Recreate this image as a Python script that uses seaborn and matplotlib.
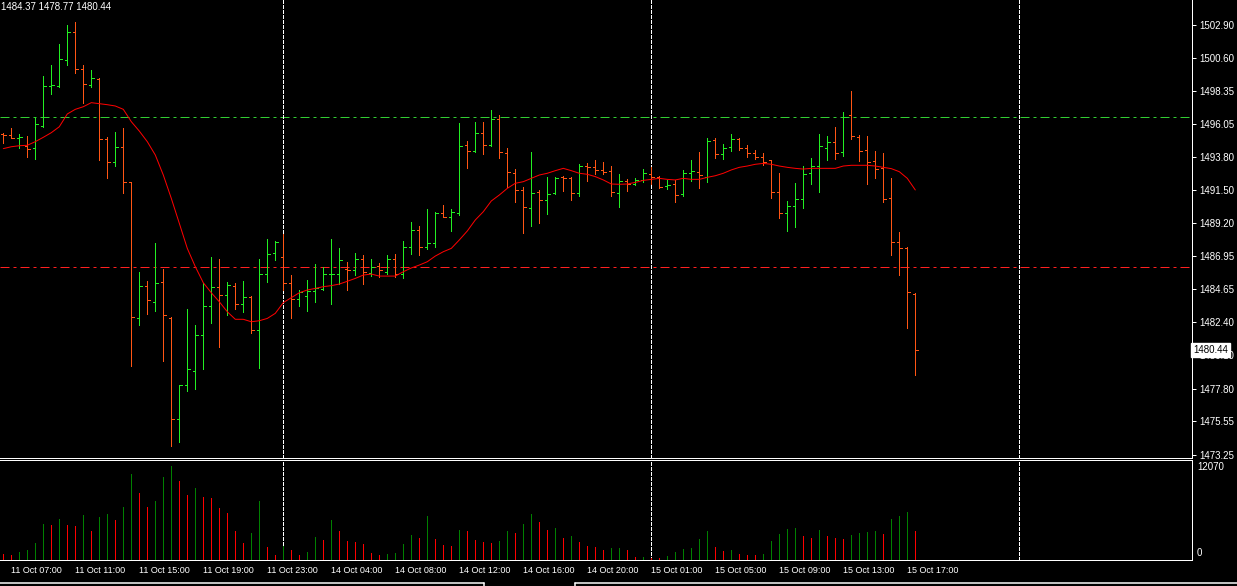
import numpy as np
import matplotlib
matplotlib.use("Agg")
import matplotlib.pyplot as plt
import matplotlib.transforms as mtransforms
from matplotlib.lines import Line2D
import seaborn as sns

# XAUUSD M30 bars
opens = [1495.36, 1495.29, 1495.10, 1494.55, 1494.37, 1495.91, 1498.69, 1498.65, 1500.44, 1502.37,
         1499.82, 1498.71, 1499.17, 1494.99, 1493.45, 1494.46, 1492.05, 1482.64, 1484.87, 1483.75,
         1485.13, 1482.69, 1475.68, 1478.05, 1479.01, 1481.50, 1483.50, 1484.81, 1484.23, 1484.87,
         1483.61, 1484.14, 1481.82, 1485.68, 1487.13, 1486.85, 1485.06, 1483.96, 1484.16, 1484.53,
         1484.69, 1485.68, 1485.68, 1486.07, 1485.98, 1486.74, 1485.79, 1486.25, 1485.82, 1486.71,
         1485.70, 1487.54, 1488.71, 1487.54, 1487.82, 1489.89, 1489.66, 1489.89, 1494.58, 1494.16,
         1495.40, 1494.58, 1496.39, 1494.02, 1492.65, 1491.50, 1490.23, 1491.33, 1490.78, 1491.27,
         1492.39, 1492.30, 1491.27, 1493.17, 1493.06, 1492.85, 1492.78, 1491.27, 1492.09, 1491.91,
         1492.18, 1492.58, 1492.42, 1491.77, 1491.89, 1491.20, 1492.67, 1492.76, 1492.39, 1494.92,
         1493.96, 1494.46, 1495.04, 1494.37, 1494.02, 1493.75, 1493.54, 1491.33, 1489.89, 1490.37,
         1490.85, 1492.65, 1493.13, 1494.37, 1494.78, 1494.09, 1496.65, 1495.13, 1494.23, 1493.47,
         1492.99, 1490.92, 1487.89, 1487.47, 1484.30]
highs = [1495.45, 1495.75, 1495.33, 1495.22, 1496.51, 1499.36, 1500.12, 1501.57, 1502.88, 1503.08,
         1500.12, 1499.77, 1499.20, 1495.13, 1495.50, 1495.77, 1492.07, 1485.84, 1485.22, 1487.82,
         1486.02, 1482.71, 1478.05, 1483.26, 1482.19, 1485.06, 1486.88, 1486.74, 1485.15, 1485.06,
         1485.22, 1484.19, 1486.74, 1488.12, 1487.98, 1488.46, 1485.63, 1484.60, 1485.29, 1486.39,
         1486.19, 1488.12, 1487.50, 1486.53, 1487.17, 1486.99, 1486.74, 1486.44, 1486.99, 1487.06,
         1487.98, 1489.27, 1488.99, 1490.16, 1489.98, 1490.44, 1490.16, 1496.12, 1494.85, 1496.19,
         1496.19, 1497.01, 1496.65, 1494.39, 1492.94, 1491.70, 1494.09, 1491.50, 1492.42, 1492.39,
         1492.46, 1492.37, 1493.29, 1493.36, 1493.56, 1493.43, 1493.15, 1492.60, 1492.25, 1492.32,
         1492.94, 1493.06, 1492.46, 1492.18, 1492.18, 1492.88, 1493.56, 1494.12, 1495.08, 1495.08,
         1494.67, 1495.33, 1495.10, 1494.60, 1494.25, 1494.05, 1493.56, 1492.67, 1490.74, 1491.98,
         1493.15, 1493.70, 1495.36, 1495.22, 1495.84, 1496.88, 1498.32, 1495.27, 1495.22, 1494.19,
         1494.05, 1492.32, 1488.60, 1487.54, 1484.37]
lows = [1494.76, 1495.06, 1494.37, 1493.79, 1493.66, 1495.86, 1498.12, 1498.62, 1500.12, 1499.59,
        1497.52, 1498.62, 1493.56, 1492.35, 1493.17, 1491.31, 1479.38, 1482.19, 1482.92, 1483.17,
        1479.72, 1473.86, 1474.14, 1477.66, 1477.79, 1479.17, 1482.35, 1480.69, 1482.85, 1483.31,
        1483.10, 1481.66, 1479.24, 1485.17, 1486.69, 1484.60, 1482.69, 1483.52, 1483.17, 1483.79,
        1484.62, 1483.66, 1485.01, 1484.62, 1485.63, 1485.04, 1485.56, 1485.52, 1485.70, 1485.52,
        1485.45, 1487.08, 1487.01, 1487.45, 1487.56, 1489.61, 1488.69, 1489.77, 1493.04, 1494.14,
        1494.00, 1494.55, 1493.73, 1491.70, 1490.69, 1488.55, 1489.04, 1489.24, 1489.86, 1491.24,
        1491.45, 1490.83, 1491.10, 1492.14, 1492.62, 1492.62, 1491.10, 1490.35, 1491.45, 1491.86,
        1492.07, 1491.93, 1491.66, 1491.59, 1490.69, 1491.10, 1492.14, 1491.66, 1492.07, 1493.73,
        1493.66, 1494.21, 1494.28, 1493.79, 1493.63, 1493.24, 1490.97, 1489.59, 1488.69, 1488.94,
        1490.28, 1491.93, 1491.38, 1493.59, 1493.66, 1493.86, 1494.99, 1493.52, 1491.93, 1492.35,
        1490.69, 1487.04, 1485.66, 1482.00, 1478.77]
closes = [1495.29, 1495.10, 1495.15, 1494.30, 1496.02, 1498.65, 1498.71, 1500.51, 1502.37, 1499.82,
          1498.78, 1499.20, 1494.99, 1493.45, 1494.48, 1492.07, 1482.71, 1484.90, 1483.91, 1485.06,
          1482.87, 1475.68, 1478.02, 1479.13, 1481.50, 1483.50, 1484.81, 1484.23, 1484.92, 1483.61,
          1484.12, 1481.82, 1485.68, 1487.08, 1487.89, 1485.06, 1483.96, 1484.48, 1484.53, 1484.71,
          1485.70, 1485.73, 1486.67, 1485.98, 1486.74, 1485.86, 1486.21, 1485.96, 1486.71, 1485.70,
          1487.54, 1488.71, 1487.54, 1487.82, 1489.89, 1489.66, 1489.96, 1494.53, 1494.21, 1495.40,
          1494.58, 1496.39, 1494.09, 1492.71, 1491.50, 1490.30, 1491.27, 1490.78, 1491.22, 1492.35,
          1492.30, 1491.27, 1493.15, 1493.10, 1492.85, 1492.76, 1491.33, 1492.09, 1491.91, 1492.18,
          1492.65, 1492.42, 1491.73, 1491.84, 1491.13, 1492.67, 1492.78, 1492.51, 1494.85, 1493.96,
          1494.39, 1495.01, 1494.37, 1494.02, 1493.75, 1493.45, 1491.33, 1489.89, 1490.37, 1490.85,
          1492.60, 1493.13, 1494.51, 1494.78, 1494.02, 1496.55, 1495.20, 1494.16, 1493.40, 1492.92,
          1490.85, 1487.89, 1487.47, 1484.44, 1480.44]
ma_values = [1494.35, 1494.48, 1494.55, 1494.58, 1494.83, 1495.13, 1495.45, 1495.86, 1496.74, 1497.06,
             1497.24, 1497.52, 1497.45, 1497.38, 1497.29, 1497.06, 1496.21, 1495.56, 1494.83, 1493.91,
             1492.53, 1490.92, 1489.20, 1487.47, 1486.21, 1485.10, 1484.41, 1483.79, 1483.10, 1482.58,
             1482.58, 1482.41, 1482.48, 1482.64, 1482.99, 1483.73, 1484.07, 1484.41, 1484.60, 1484.71,
             1484.83, 1484.90, 1485.01, 1485.20, 1485.40, 1485.63, 1485.70, 1485.56, 1485.56, 1485.56,
             1485.86, 1486.12, 1486.32, 1486.55, 1486.94, 1487.24, 1487.47, 1488.05, 1488.67, 1489.43,
             1490.00, 1490.74, 1491.15, 1491.61, 1491.96, 1492.07, 1492.30, 1492.53, 1492.65, 1492.83,
             1492.99, 1492.83, 1492.65, 1492.58, 1492.42, 1492.19, 1491.91, 1491.89, 1491.91, 1492.02,
             1492.16, 1492.23, 1492.30, 1492.23, 1492.19, 1492.30, 1492.23, 1492.23, 1492.37, 1492.48,
             1492.65, 1492.88, 1493.06, 1493.15, 1493.27, 1493.33, 1493.27, 1493.15, 1493.06, 1492.99,
             1492.94, 1492.99, 1492.99, 1492.99, 1492.99, 1493.15, 1493.20, 1493.20, 1493.20, 1493.15,
             1493.06, 1492.97, 1492.76, 1492.30, 1491.50]
volumes = [620, 500, 870, 1120, 1990, 4350, 4230, 4980, 4230, 4180,
           5470, 3480, 5220, 5600, 4850, 6470, 10570, 8210, 6470, 7220,
           10200, 11610, 9700, 7960, 8830, 7710, 7590, 6340, 5760, 3480,
           1990, 3230, 7220, 1490, 500, 1620, 1120, 500, 870, 2740,
           2360, 4850, 3480, 2240, 2200, 1870, 750, 500, 620, 750,
           1870, 2990, 2610, 5350, 2490, 1740, 1700, 3610, 3480, 2360,
           2110, 2080, 2240, 3480, 3230, 4350, 5600, 4600, 3610, 3860,
           2610, 2860, 2110, 1620, 1490, 1120, 1370, 1420, 1120, 250,
           300, 200, 170, 400, 870, 1240, 1370, 2490, 3480, 1490,
           1000, 1120, 620, 580, 500, 620, 2240, 3110, 3730, 3860,
           2860, 2610, 3610, 2860, 2610, 2490, 2990, 3230, 3360, 3480,
           3110, 4980, 5350, 5850, 3480]
time_labels = ["11 Oct 07:00", "11 Oct 11:00", "11 Oct 15:00", "11 Oct 19:00", "11 Oct 23:00",
               "14 Oct 04:00", "14 Oct 08:00", "14 Oct 12:00", "14 Oct 16:00", "14 Oct 20:00",
               "15 Oct 01:00", "15 Oct 05:00", "15 Oct 09:00", "15 Oct 13:00", "15 Oct 17:00"]
label_bars = [1, 9, 17, 25, 33, 41, 49, 57, 65, 73, 81, 89, 97, 105, 113]
price_ticks = [1502.90, 1500.60, 1498.35, 1496.05, 1493.80, 1491.50, 1489.20,
               1486.95, 1484.65, 1482.40, 1480.10, 1477.80, 1475.55, 1473.25]
day_separators = [35, 81, 127]
resistance = 1496.51
support = 1486.16
last_price = 1480.44
header = "1484.37 1478.77 1480.44"
vol_label_max = 12070

W, H = 1237, 586
PX = 0.72  # one pixel in points at 100 dpi
UP, DOWN = "#22ee22", "#ff5514"

sns.set_style("dark", {"axes.facecolor": "black", "figure.facecolor": "black"})
plt.rcParams["font.family"] = ["Liberation Sans", "DejaVu Sans"]

fig = plt.figure(figsize=(W / 100, H / 100), dpi=100, facecolor="black")
ax = fig.add_axes([0, (H - 457.5) / H, 1192 / W, 457.5 / H])
axv = fig.add_axes([0, (H - 559.5) / H, 1192 / W, 100 / H])

idx = np.arange(len(opens))
o, hi, lo, c = map(np.array, (opens, highs, lows, closes))
cols = np.where(c >= o, UP, DOWN)
xmin = -3.3 / 8
xmax = xmin + 1192 / 8

# price panel
ax.axhline(resistance, color="#32cd32", lw=PX, ls=(0, (9, 4, 3, 4)), zorder=1)
ax.axhline(support, color="#ff2020", lw=PX, ls=(0, (9, 4, 3, 4)), zorder=1)
for b in day_separators:
    ax.axvline(b, color="white", lw=PX, ls=(0, (3, 2)), zorder=1, antialiased=False)
    axv.axvline(b, color="white", lw=PX, ls=(0, (3, 2)), zorder=1, antialiased=False)

ax.vlines(idx, lo, hi, colors=cols, lw=PX, zorder=3, antialiased=False)
ax.hlines(o, idx - 0.33, idx, colors=cols, lw=PX, zorder=3, antialiased=False)
ax.hlines(c, idx, idx + 0.33, colors=cols, lw=PX, zorder=3, antialiased=False)
sns.lineplot(x=idx, y=ma_values, ax=ax, color="#ff0000", lw=PX, zorder=4)

ax.set_xlim(xmin, xmax)
ax.set_ylim(1504.60 - 457.5 / 14.5, 1504.60)
ax.yaxis.tick_right()
ax.set_yticks(price_ticks)
ax.set_yticklabels([f"{p:.2f}" for p in price_ticks])
ax.tick_params(axis="y", colors="white", labelcolor="white", labelsize=7, length=3, width=PX,
               direction="out", pad=2, right=True, left=False)
ax.set_xticks([])
ax.grid(False)
for side in ("left", "top"):
    ax.spines[side].set_visible(False)
for side in ("right", "bottom"):
    ax.spines[side].set_visible(True)
    ax.spines[side].set_color("white")
    ax.spines[side].set_linewidth(PX)

trans = mtransforms.blended_transform_factory(ax.transAxes, ax.transData)
ax.text(1.0012, last_price, f"{last_price:.2f}", transform=trans, fontsize=7, color="black",
        va="center", ha="left", clip_on=False, zorder=20,
        bbox=dict(facecolor="white", edgecolor="white", boxstyle="square,pad=0.2"))

# volume panel
vol = np.array(volumes)
vcols = ["#ff0000"] + ["#008000" if vol[i] > vol[i - 1] else "#ff0000" for i in range(1, len(vol))]
axv.vlines(idx, 0, vol, colors=vcols, lw=PX, zorder=3, antialiased=False)
axv.set_xlim(xmin, xmax)
axv.set_ylim(0, vol_label_max * 100 / 97.5)
axv.set_yticks([])
axv.set_xticks(label_bars)
axv.set_xticklabels(time_labels, ha="left")
axv.tick_params(axis="x", colors="white", labelcolor="white", labelsize=6.5, length=3, width=PX,
                direction="out", pad=2)
axv.grid(False)
axv.spines["left"].set_visible(False)
for side in ("right", "bottom", "top"):
    axv.spines[side].set_visible(True)
    axv.spines[side].set_color("white")
    axv.spines[side].set_linewidth(PX)

fig.text(1197 / W, 1 - 466.5 / H, f"{vol_label_max}", color="white", fontsize=7, va="center", ha="left")
fig.text(1197 / W, 1 - 553.5 / H, "0", color="white", fontsize=7, va="center", ha="left")

fig.text(1 / W, 1 - 7 / H, header, color="white", fontsize=7, va="center", ha="left")

# bottom tab strip of the terminal window
fig.add_artist(Line2D([0, 484 / W], [1 - 582.5 / H] * 2, color="white", lw=PX * 1.5))
fig.add_artist(Line2D([484 / W, 484 / W], [1 - 582.5 / H, 0], color="white", lw=PX * 1.5))
fig.add_artist(Line2D([575 / W, 1], [1 - 582.5 / H] * 2, color="white", lw=PX * 1.5))
fig.add_artist(Line2D([575 / W, 575 / W], [1 - 582.5 / H, 0], color="white", lw=PX * 1.5))

fig.savefig("out.png", dpi=100, facecolor="black")
